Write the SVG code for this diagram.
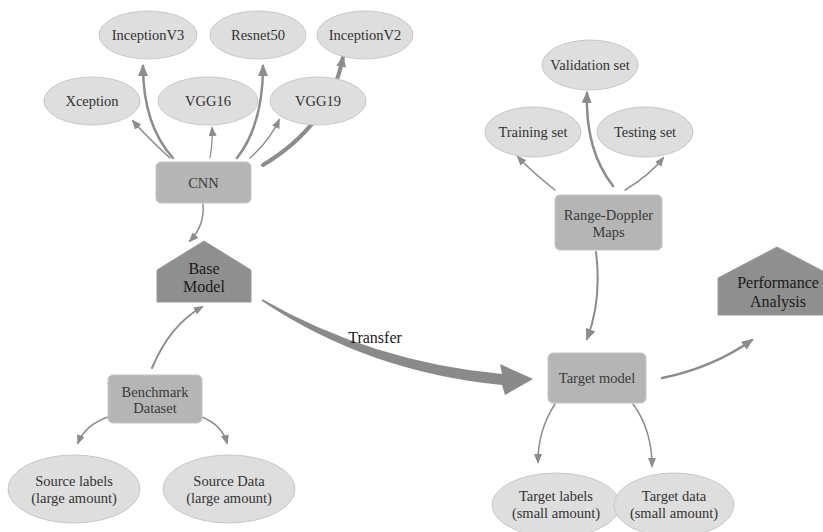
<svg xmlns="http://www.w3.org/2000/svg" width="823" height="532" viewBox="0 0 823 532" font-family="'Liberation Serif', 'DejaVu Serif', 'Times New Roman', serif">
<style>
text{font-family:'Liberation Serif','DejaVu Serif','Times New Roman',serif;text-anchor:middle;}
.el{fill:#dedede;stroke:#c8c8c8;stroke-width:1;}
.bx{fill:#b5b5b5;stroke:#c4c4c4;stroke-width:1;}
.pt{fill:#8f8f8f;stroke:#9a9a9a;stroke-width:1;}
.t{font-size:14.5px;fill:#333333;}
.tb{font-size:14.5px;fill:#3a3a3a;}
.tp{font-size:16px;fill:#1a1a1a;}
.c{fill:none;stroke:#8c8c8c;stroke-linecap:round;}
</style>
<defs>
<marker id="ah" markerUnits="userSpaceOnUse" markerWidth="10" markerHeight="8" refX="8" refY="4" orient="auto"><path d="M0,0 L10,4 L0,8 z" fill="#8c8c8c"/></marker>
<marker id="ahM" markerUnits="userSpaceOnUse" markerWidth="12" markerHeight="10" refX="10" refY="5" orient="auto"><path d="M0,0 L12,5 L0,10 z" fill="#8c8c8c"/></marker>
</defs>
<g id="connectors">
<path class="c" d="M170,158 Q145,135 133,121" stroke-width="1.5" marker-end="url(#ah)"/>
<path class="c" d="M173,158 Q143,125 143,66" stroke-width="2.5" marker-end="url(#ahM)"/>
<path class="c" d="M210,158 Q213,140 212,128" stroke-width="1.2" marker-end="url(#ah)"/>
<path class="c" d="M237,158 Q263,125 263,66" stroke-width="2.5" marker-end="url(#ahM)"/>
<path class="c" d="M250,158 Q270,140 279,120" stroke-width="1.5" marker-end="url(#ah)"/>
<path class="c" d="M263,165 Q330,125 343,57" stroke-width="4" marker-end="url(#ahM)"/>
<path class="c" d="M203,204 Q205,225 190,241" stroke-width="1.5" marker-end="url(#ah)"/>
<path class="c" d="M152,368 Q170,325 202,307" stroke-width="2" marker-end="url(#ah)"/>
<path class="c" d="M108,417 Q85,425 78,443" stroke-width="1.5" marker-end="url(#ah)"/>
<path class="c" d="M202,417 Q222,425 227,443" stroke-width="1.5" marker-end="url(#ah)"/>
<path d="M262,299 Q372,362 502,374 L500,364 L533,379 L505,395 L502,385 Q368,372 262,301 Z" fill="#8a8a8a"/>
<path class="c" d="M555,190 Q530,170 518,157" stroke-width="1.5" marker-end="url(#ah)"/>
<path class="c" d="M613,186 Q585,150 587,93" stroke-width="2.5" marker-end="url(#ahM)"/>
<path class="c" d="M625,190 Q650,175 663,158" stroke-width="1.5" marker-end="url(#ah)"/>
<path class="c" d="M596,252 Q602,300 587,339" stroke-width="2" marker-end="url(#ahM)"/>
<path class="c" d="M662,378 Q712,368 752,340" stroke-width="2.5" marker-end="url(#ahM)"/>
<path class="c" d="M555,404 Q538,430 538,462" stroke-width="1.5" marker-end="url(#ah)"/>
<path class="c" d="M633,404 Q652,430 652,466" stroke-width="1.5" marker-end="url(#ah)"/>
</g>
<g id="inceptionv3"><ellipse class="el" cx="148" cy="35" rx="49" ry="24"/><text class="t" x="148" y="40">InceptionV3</text></g>
<g id="resnet50"><ellipse class="el" cx="258" cy="35" rx="48" ry="24"/><text class="t" x="258" y="40">Resnet50</text></g>
<g id="inceptionv2"><ellipse class="el" cx="365" cy="35" rx="48" ry="24"/><text class="t" x="365" y="40">InceptionV2</text></g>
<g id="xception"><ellipse class="el" cx="92" cy="101" rx="48" ry="24"/><text class="t" x="92" y="106">Xception</text></g>
<g id="vgg16"><ellipse class="el" cx="208" cy="101" rx="50" ry="24"/><text class="t" x="208" y="106">VGG16</text></g>
<g id="vgg19"><ellipse class="el" cx="318" cy="101" rx="48" ry="24"/><text class="t" x="318" y="106">VGG19</text></g>
<g id="cnn"><rect class="bx" x="156" y="162" width="95" height="41" rx="5"/><text class="tb" x="203.5" y="188">CNN</text></g>
<g id="base-model"><path class="pt" d="M157,270 L204,241 L251,270 L251,302 L157,302 Z"/><text class="tp" x="204" y="274">Base</text><text class="tp" x="204" y="292">Model</text></g>
<g id="benchmark"><rect class="bx" x="108" y="375" width="94" height="48" rx="5"/><text class="tb" x="155" y="397">Benchmark</text><text class="tb" x="155" y="413">Dataset</text></g>
<g id="source-labels"><ellipse class="el" cx="74" cy="489" rx="66" ry="34"/><text class="t" x="74" y="486">Source labels</text><text class="t" x="74" y="503">(large amount)</text></g>
<g id="source-data"><ellipse class="el" cx="229" cy="489" rx="66" ry="34"/><text class="t" x="229" y="486">Source Data</text><text class="t" x="229" y="503">(large amount)</text></g>
<g id="transfer-label"><text class="tp" x="375" y="343">Transfer</text></g>
<g id="validation"><ellipse class="el" cx="590" cy="65" rx="48" ry="25"/><text class="t" x="590" y="70">Validation set</text></g>
<g id="training"><ellipse class="el" cx="533" cy="132" rx="48" ry="25"/><text class="t" x="533" y="137">Training set</text></g>
<g id="testing"><ellipse class="el" cx="645" cy="132" rx="48" ry="25"/><text class="t" x="645" y="137">Testing set</text></g>
<g id="range-doppler"><rect class="bx" x="555" y="195" width="107" height="55" rx="5"/><text class="tb" x="608.5" y="220">Range-Doppler</text><text class="tb" x="608.5" y="237">Maps</text></g>
<g id="target-model"><rect class="bx" x="548" y="353" width="98" height="50" rx="5"/><text class="tb" x="597" y="383">Target model</text></g>
<g id="performance"><path class="pt" d="M718,278 L777,247 L836,278 L836,315 L718,315 Z"/><text class="tp" x="778" y="288">Performance</text><text class="tp" x="778" y="307">Analysis</text></g>
<g id="target-labels"><ellipse class="el" cx="556" cy="505" rx="64" ry="32"/><text class="t" x="556" y="501">Target labels</text><text class="t" x="556" y="518">(small amount)</text></g>
<g id="target-data"><ellipse class="el" cx="674" cy="505" rx="60" ry="32"/><text class="t" x="674" y="501">Target data</text><text class="t" x="674" y="518">(small amount)</text></g>
</svg>
